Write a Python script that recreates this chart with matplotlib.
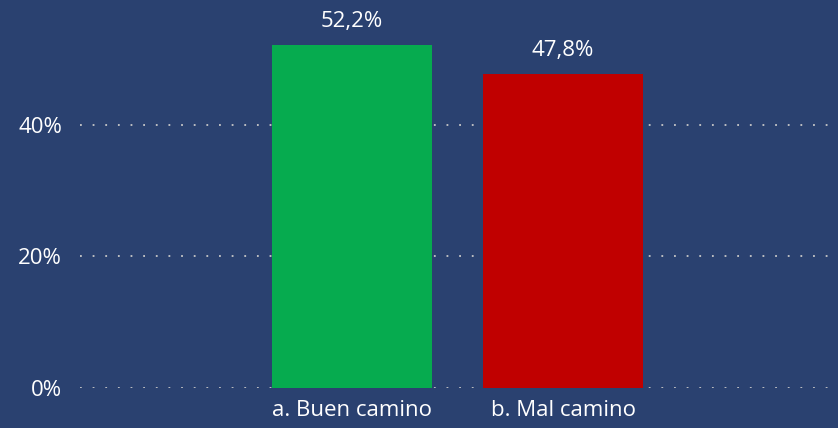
import matplotlib.pyplot as plt
from matplotlib.ticker import FuncFormatter

# Datos
categorias = ['a. Buen camino', 'b. Mal camino']
valores = [52.2, 47.8]
colores = ['#06ab4f', '#c00000']
etiquetas = ['52,2%', '47,8%']

fondo = '#2a4170'
plt.rcParams['font.family'] = ['Open Sans', 'DejaVu Sans']

fig = plt.figure(figsize=(8.38, 4.28), dpi=100, facecolor=fondo)
ax = fig.add_axes([80 / 838, 40 / 428, 758 / 838, 388 / 428], facecolor=fondo)

x = range(len(categorias))
barras = ax.bar(x, valores, width=0.76, color=colores, zorder=3)

# Etiquetas de valor sobre las barras
for barra, texto in zip(barras, etiquetas):
    ax.annotate(texto, (barra.get_x() + barra.get_width() / 2, barra.get_height()),
                xytext=(0, 9), textcoords='offset points', ha='center', va='bottom',
                color='white', fontsize=16)

ax.set_xlim(-1.289, 2.303)
ax.set_ylim(0, 59)
ax.set_yticks([0, 20, 40])
ax.yaxis.set_major_formatter(FuncFormatter(lambda v, _: f'{v:.0f}%'))
ax.set_xticks(list(x))
ax.set_xticklabels(categorias)

ax.tick_params(axis='both', length=0, colors='white', labelsize=16)
ax.tick_params(axis='y', pad=13)
ax.tick_params(axis='x', pad=9)

ax.grid(axis='y', color='#c8c8c8', linestyle=(0, (1, 6)), linewidth=1.3, zorder=0)
for lado in ax.spines.values():
    lado.set_visible(False)

fig.savefig('out.png', facecolor=fondo)
